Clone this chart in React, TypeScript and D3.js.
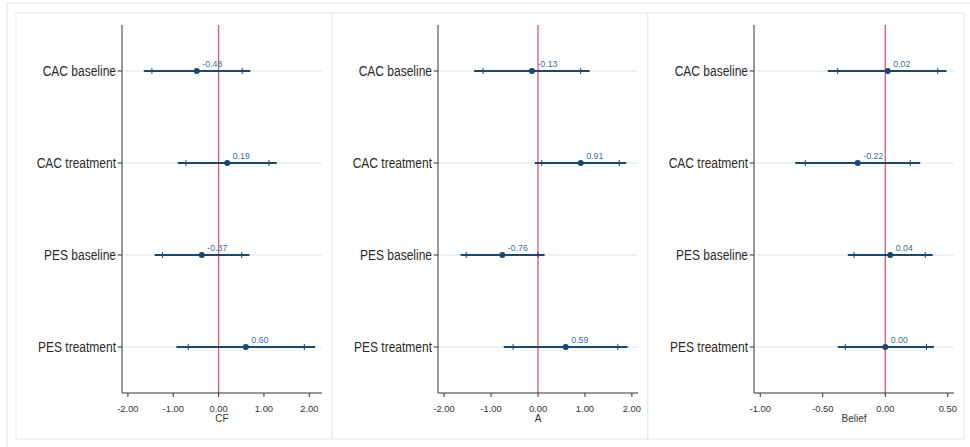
import React from 'react';
import * as d3 from 'd3';

// categories shown on the y axis of every panel
const categories = ['CAC baseline', 'CAC treatment', 'PES baseline', 'PES treatment'];

// CF panel
const cfEst = [-0.48, 0.19, -0.37, 0.60];
const cfLo95 = [-1.65, -0.90, -1.41, -0.93];
const cfHi95 = [0.70, 1.28, 0.68, 2.13];
const cfLo90 = [-1.47, -0.72, -1.24, -0.67];
const cfHi90 = [0.52, 1.11, 0.51, 1.89];

// A panel
const aEst = [-0.13, 0.91, -0.76, 0.59];
const aLo95 = [-1.36, -0.07, -1.65, -0.73];
const aHi95 = [1.10, 1.88, 0.14, 1.91];
const aLo90 = [-1.17, 0.08, -1.53, -0.53];
const aHi90 = [0.91, 1.73, 0.00, 1.70];

// Belief panel
const beliefEst = [0.02, -0.22, 0.04, 0.00];
const beliefLo95 = [-0.46, -0.72, -0.30, -0.38];
const beliefHi95 = [0.49, 0.28, 0.38, 0.39];
const beliefLo90 = [-0.38, -0.64, -0.25, -0.32];
const beliefHi90 = [0.42, 0.20, 0.32, 0.33];

// axis titles, ticks and axis extents
const titles = ['CF', 'A', 'Belief'];
const ticksWide = [-2, -1, 0, 1, 2];
const ticksBelief = [-1, -0.5, 0, 0.5];
const extentCF = [-2.13, 2.28];
const extentA = [-2.13, 2.13];
const extentBelief = [-1.05, 0.55];

const panels = [
  {title: titles[0], est: cfEst, lo95: cfLo95, hi95: cfHi95, lo90: cfLo90, hi90: cfHi90, ticks: ticksWide, extent: extentCF},
  {title: titles[1], est: aEst, lo95: aLo95, hi95: aHi95, lo90: aLo90, hi90: aHi90, ticks: ticksWide, extent: extentA},
  {title: titles[2], est: beliefEst, lo95: beliefLo95, hi95: beliefHi95, lo90: beliefLo90, hi90: beliefHi90, ticks: ticksBelief, extent: extentBelief},
];

const W = 970;
const H = 447;
const frameColor = '#dce9ea';
const ciColor = '#1a476f';
const labelColor = '#3d6e9c';
const zeroColor = '#dc5676';
const font = '"Liberation Sans", Arial, sans-serif';

const panelW = 316;
const panelTop = 13;
const panelBottom = 439;
const plotTop = 25;
const plotBottom = 393;
// stata prints a plain hyphen, not the unicode minus d3 uses
const fmt = v => d3.format('.2f')(v).replace('\u2212', '-');

function Panel({p, i}) {
  const left = 16 + panelW * i;
  const x0 = left + 106;
  const x1 = left + 306;

  const x = d3.scaleLinear().domain(p.extent).range([x0, x1]);
  const y = d3.scalePoint().domain(categories).range([plotTop, plotBottom]).padding(0.5);

  return (
    <g>
      <rect x={left} y={panelTop} width={panelW} height={panelBottom - panelTop}
        fill="#fff" stroke={frameColor} strokeWidth={1} />

      {/* grid lines */}
      {categories.map(c => (
        <line key={c} x1={x0} x2={x1} y1={y(c)} y2={y(c)} stroke="#e6efef" strokeWidth={1.5} />
      ))}

      {/* zero reference */}
      <line x1={x(0)} x2={x(0)} y1={plotTop} y2={plotBottom} stroke={zeroColor} strokeWidth={1.3} />

      {/* intervals */}
      {categories.map((c, k) => {
        const cy = y(c);
        return (
          <g key={c}>
            <line x1={x(p.lo95[k])} x2={x(p.hi95[k])} y1={cy} y2={cy} stroke={ciColor} strokeWidth={2} />
            <line x1={x(p.lo90[k])} x2={x(p.lo90[k])} y1={cy - 3} y2={cy + 3} stroke={ciColor} strokeWidth={1} />
            <line x1={x(p.hi90[k])} x2={x(p.hi90[k])} y1={cy - 3} y2={cy + 3} stroke={ciColor} strokeWidth={1} />
            <circle cx={x(p.est[k])} cy={cy} r={3} fill={ciColor} />
            <text x={x(p.est[k]) + 5.5} y={cy - 4} fontSize={8.8} fill={labelColor} fontFamily={font}>
              {fmt(p.est[k])}
            </text>
          </g>
        );
      })}

      {/* y axis */}
      <line x1={x0} x2={x0} y1={plotTop} y2={plotBottom} stroke="#333" strokeWidth={1} />
      {categories.map(c => (
        <g key={c}>
          <line x1={x0 - 4.5} x2={x0} y1={y(c)} y2={y(c)} stroke="#333" strokeWidth={1} />
          <text transform={`translate(${x0 - 6},${y(c) + 5.3}) scale(0.8,1)`} textAnchor="end"
            fontSize={15} fill="#2a2a2a" fontFamily={font}>{c}</text>
        </g>
      ))}

      {/* x axis */}
      <line x1={x0} x2={x1} y1={plotBottom} y2={plotBottom} stroke="#333" strokeWidth={1} />
      {p.ticks.map(t => (
        <g key={t}>
          <line x1={x(t)} x2={x(t)} y1={plotBottom} y2={plotBottom + 4} stroke="#333" strokeWidth={1} />
          <text x={x(t)} y={411.7} textAnchor="middle" fontSize={9.4} fill="#333" fontFamily={font}>
            {fmt(t)}
          </text>
        </g>
      ))}
      <text x={(x0 + x1) / 2} y={422.3} textAnchor="middle" fontSize={10} fill="#333" fontFamily={font}>
        {p.title}
      </text>
    </g>
  );
}

export default function App() {
  return (
    <svg width={W} height={H} style={{position: 'absolute', left: 0, top: 0, background: '#fff'}}>
      <rect x={7} y={3} width={W} height={H} fill="#fff" stroke={frameColor} strokeWidth={1} />
      {panels.map((p, i) => <Panel key={p.title} p={p} i={i} />)}
    </svg>
  );
}
